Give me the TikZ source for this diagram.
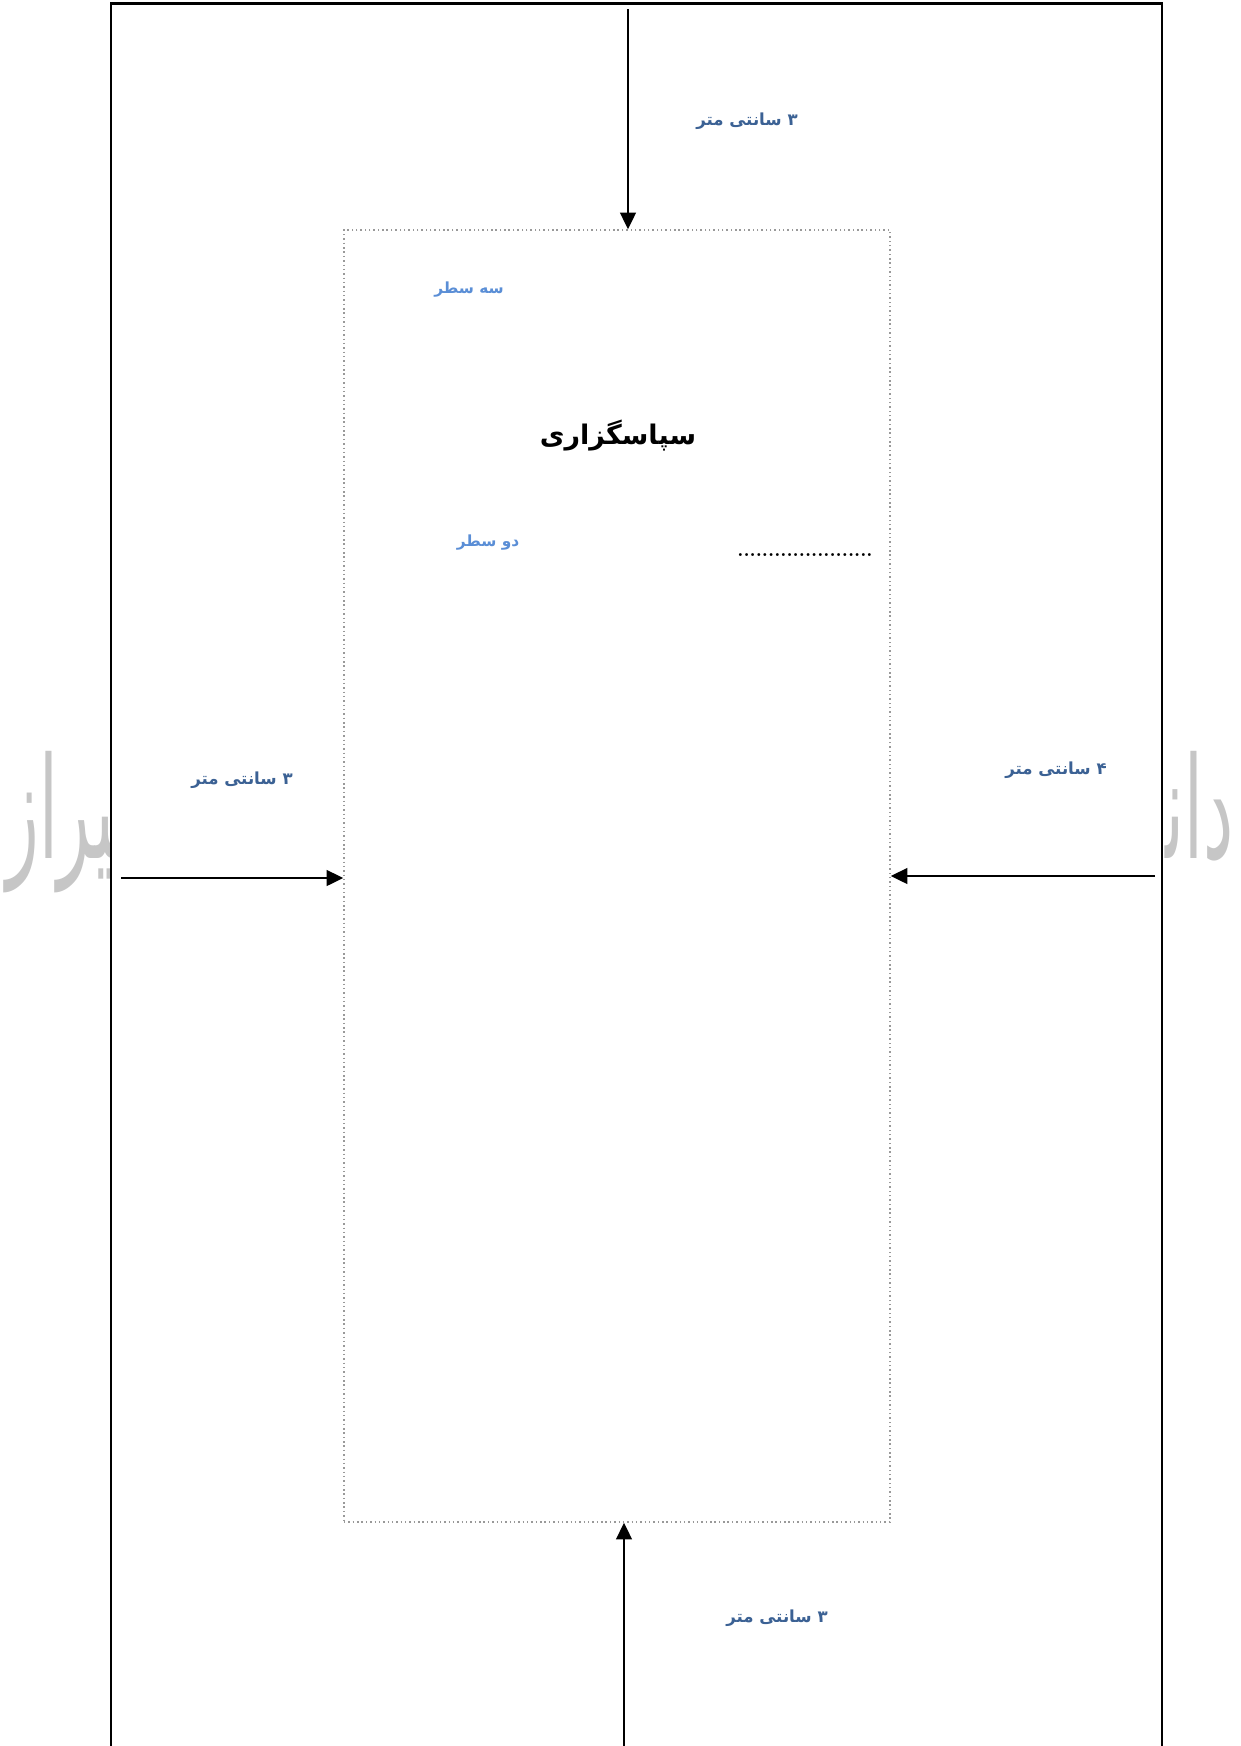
\documentclass[tikz,border=0pt]{standalone}
\usepackage{fontspec}
\usepackage{xcolor}
\usepackage{tikz}
\usetikzlibrary{calc,positioning,fit,arrows.meta,backgrounds}
\TeXXeTstate=1
\newfontfamily\farsifont[Script=Arabic]{DejaVu Sans}
\definecolor{dimblue}{HTML}{3B6194}
\definecolor{noteblue}{HTML}{5A8ED6}
\definecolor{wmgray}{HTML}{C6C6C6}

\begin{document}
\begin{tikzpicture}[x=0.016933cm, y=-0.016933cm,
          frameline/.style={draw=black, line width=1pt},
          marginbox/.style={draw=black!40, line width=0.7pt, dash pattern=on 0.7pt off 1.4pt, inner sep=0pt},
          dimarrow/.style={draw=black, line width=1.2pt, -{Triangle[length=8pt,width=7.5pt]}},
          dimlabel/.style={text=dimblue, font=\farsifont\bfseries\fontsize{8}{10}\selectfont},
          linelabel/.style={text=noteblue, font=\farsifont\bfseries\fontsize{7.4}{9}\selectfont},
          titlelabel/.style={font=\farsifont\bfseries\fontsize{13}{16}\selectfont},
          watermark/.style={text=wmgray, font=\farsifont\fontsize{68}{80}\selectfont, inner sep=0pt},
        ]
        \useasboundingbox (0,0) rectangle (1240,1746);
        \node[watermark, anchor=base east] (wmright) at (1234,858) {\scalebox{0.48}[1]{\beginR دان^^^^200d\endR}};
        \node[watermark, anchor=base west] (wmleft) at (6,858) {\scalebox{0.48}[1]{\beginR ^^^^200dیراز\endR}};
        \fill[white] (111,3.5) rectangle (1162,1746);
        \draw[frameline] (111,1746) |- (1162,3.5) -- (1162,1746);
        \coordinate (mtl) at (344,230);
        \coordinate (mbr) at (890,1522);
        \node[marginbox, fit=(mtl)(mbr)] (margin) {};
        \coordinate (topstart) at (628,9);
        \coordinate (botstart) at (624,1746);
        \coordinate (leftstart) at (121,878);
        \coordinate (rightstart) at (1155,876);
        \draw[dimarrow] (topstart) -- (topstart |- margin.north);
        \draw[dimarrow] (botstart) -- (botstart |- margin.south);
        \draw[dimarrow] (leftstart) -- (leftstart -| margin.west);
        \draw[dimarrow] (rightstart) -- (rightstart -| margin.east);
        \node[dimlabel] (toplbl) at (747,121) {\beginR ۳ سانتی متر\endR};
        \node[dimlabel] (leftlbl) at (242,780) {\beginR ۳ سانتی متر\endR};
        \node[dimlabel] (rightlbl) at (1056,770) {\beginR ۴ سانتی متر\endR};
        \node[dimlabel] (botlbl) at (777,1618) {\beginR ۳ سانتی متر\endR};
        \node[linelabel] (threelines) at (469,290) {\beginR سه سطر\endR};
        \node[titlelabel] (title) at (618,436) {\beginR سپاسگزاری\endR};
        \node[linelabel] (twolines) at (488,543) {\beginR دو سطر\endR};
        \node[font=\bfseries\fontsize{9}{11}\selectfont] (dotline) at (805,555) {......................};
      \end{tikzpicture}
\end{document}
